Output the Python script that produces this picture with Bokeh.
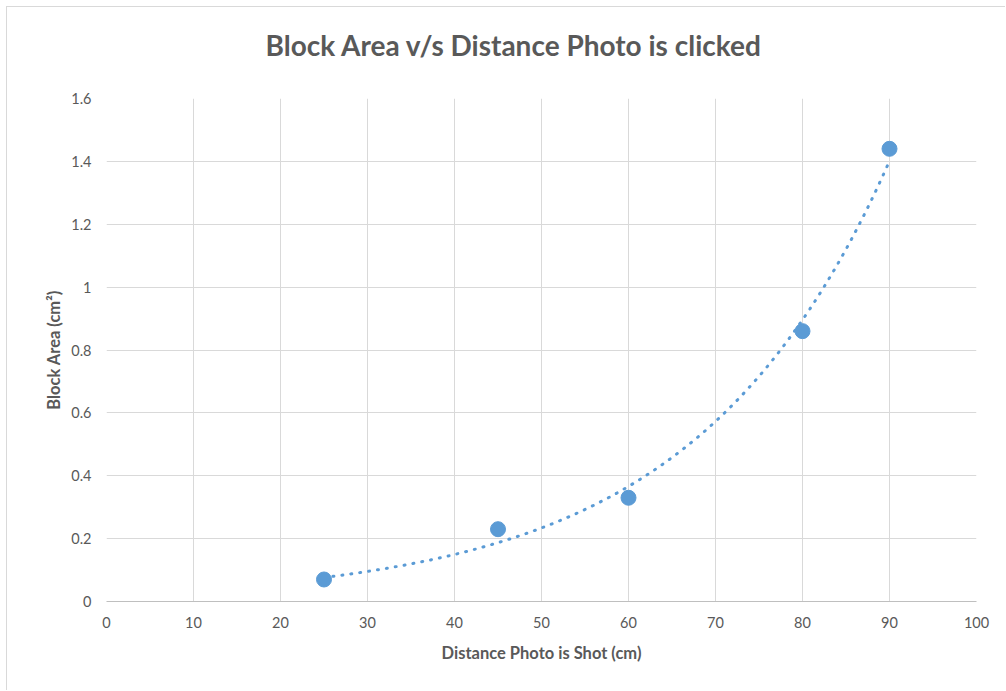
import numpy as np
from bokeh.plotting import figure
from bokeh.models import ColumnDataSource, FixedTicker, Title
from bokeh.embed import file_html
from bokeh.resources import INLINE

# Measurements: distance from which the photo was taken vs. measured block area
distance_cm = [25, 45, 60, 80, 90]
block_area_cm2 = [0.07, 0.23, 0.33, 0.86, 1.44]

x_ticks = [0, 10, 20, 30, 40, 50, 60, 70, 80, 90, 100]
y_ticks = [0, 0.2, 0.4, 0.6, 0.8, 1.0, 1.2, 1.4, 1.6]
y_tick_labels = {0: "0", 0.2: "0.2", 0.4: "0.4", 0.6: "0.6", 0.8: "0.8",
                 1.0: "1", 1.2: "1.2", 1.4: "1.4", 1.6: "1.6"}

BLUE = "#5b9bd5"
TEXT = "#595959"
GRID = "#d9d9d9"
FONT = "Lato"

# Exponential trendline y = a * exp(b x), least squares on ln(y)
b, ln_a = np.polyfit(distance_cm, np.log(block_area_cm2), 1)
trend_x = np.linspace(min(distance_cm), max(distance_cm), 200)
trend_y = np.exp(ln_a) * np.exp(b * trend_x)

p = figure(width=999, height=684, output_backend="svg", toolbar_location=None,
           x_range=(0, 100), y_range=(0, 1.6),
           min_border_left=99, min_border_right=30, min_border_top=91, min_border_bottom=90)
p.margin = (6, 0, 0, 6)
p.styles = {"border-top": "1px solid #d9d9d9", "border-left": "1px solid #d9d9d9"}
p.outline_line_color = None
p.background_fill_color = "white"
p.border_fill_color = "white"

# Blank spacer between the frame and the title, so the title sits higher up
spacer = Title(text=" ", standoff=24, text_font_size="10px", text_color="white")
p.add_layout(spacer, "above")

# Chart title, shifted so it sits centred over the whole chart rather than the frame
title = Title(text="Block Area v/s Distance Photo is clicked", align="left",
              offset=159, standoff=0,
              text_font=FONT, text_font_size="28px", text_font_style="bold",
              text_color=TEXT)
p.add_layout(title, "above")

p.line(trend_x, trend_y, line_color=BLUE, line_width=3, line_dash="1 8", line_cap="round")
src = ColumnDataSource(dict(x=distance_cm, y=block_area_cm2))
p.scatter("x", "y", source=src, size=15, fill_color=BLUE, line_color=BLUE)

p.xaxis.ticker = FixedTicker(ticks=x_ticks)
p.yaxis.ticker = FixedTicker(ticks=y_ticks)
p.yaxis.major_label_overrides = y_tick_labels

p.xaxis.axis_label = "Distance Photo is Shot (cm)"
p.yaxis.axis_label = "Block Area (cm²)"

for ax in (p.xaxis, p.yaxis):
    ax.major_tick_line_color = None
    ax.minor_tick_line_color = None
    ax.major_label_text_font = FONT
    ax.major_label_text_font_size = "14.5px"
    ax.major_label_text_color = TEXT
    ax.axis_label_text_font = FONT
    ax.axis_label_text_font_size = "16.5px"
    ax.axis_label_text_font_style = "bold"
    ax.axis_label_text_color = TEXT

p.xaxis.axis_line_color = "#bfbfbf"
p.xaxis.axis_line_width = 1
p.yaxis.axis_line_color = None
p.xaxis.major_label_standoff = 9
p.yaxis.major_label_standoff = 9
p.xaxis.axis_label_standoff = 12
p.yaxis.axis_label_standoff = 4

p.xgrid.grid_line_color = GRID
p.ygrid.grid_line_color = GRID
p.xgrid.grid_line_width = 1
p.ygrid.grid_line_width = 1

open("out.html", "w").write(file_html(p, INLINE))
